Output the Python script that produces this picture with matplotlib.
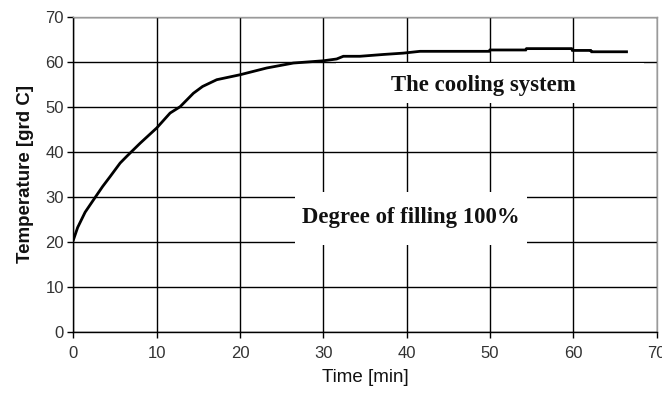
import matplotlib
matplotlib.use("Agg")
import matplotlib.pyplot as plt
from matplotlib.patches import Rectangle

# Temperature of the filled tank over time
time_min = [0, 0.5, 1.4, 2.5, 3.5, 4.4, 5.6, 6.4, 8.0, 10.0, 11.6, 12.8, 14.4,
            15.5, 17.2, 20.0, 23.2, 26.4, 30.0, 31.6, 32.4, 34.4, 37.2, 39.6,
            41.6, 49.9, 50.0, 54.3, 54.4, 59.8, 59.9, 62.1, 62.2, 66.4]
temp_c = [20.5, 23.2, 26.6, 29.6, 32.3, 34.5, 37.5, 39.0, 41.9, 45.3, 48.6,
          50.0, 53.0, 54.5, 56.0, 57.1, 58.6, 59.7, 60.2, 60.6, 61.2, 61.2,
          61.6, 61.9, 62.3, 62.3, 62.6, 62.6, 62.9, 62.9, 62.5, 62.5, 62.2, 62.2]

x_ticks = [0, 10, 20, 30, 40, 50, 60, 70]
y_ticks = [0, 10, 20, 30, 40, 50, 60, 70]

title_upper = "The cooling system"
title_lower = "Degree of filling 100%"

fig = plt.figure(figsize=(6.62, 3.96), dpi=100)
ax = fig.add_axes([0.111, 0.1616, 0.8807, 0.7964])

ax.set_xlim(0, 70)
ax.set_ylim(0, 70)
ax.set_xticks(x_ticks)
ax.set_yticks(y_ticks)

sans = ["Liberation Sans", "DejaVu Sans"]
serif = ["Liberation Serif", "DejaVu Serif"]

ax.grid(True, color="black", linewidth=1.0, zorder=1)
ax.set_axisbelow(True)

for side in ("left", "bottom"):
    ax.spines[side].set_color("black")
    ax.spines[side].set_linewidth(1.0)
for side in ("top", "right"):
    ax.spines[side].set_color("#9a9a9a")
    ax.spines[side].set_linewidth(1.0)

ax.tick_params(axis="both", direction="out", length=4, width=1.0,
               color="black", labelcolor="#333333", labelsize=12, pad=3)
for lbl in ax.get_xticklabels() + ax.get_yticklabels():
    lbl.set_family(sans)
ax.tick_params(axis="x", pad=6)

ax.set_xlabel("Time [min]", fontsize=13.5, family=sans, color="#111111",
              labelpad=6)
ax.set_ylabel("Temperature [grd C]", fontsize=13.5, family=sans,
              fontweight="bold", color="#111111", labelpad=8)

# White panels behind the two captions
ax.add_patch(Rectangle((31.5, 50.9), 37.0, 8.9, facecolor="white",
                       edgecolor="none", zorder=2))
ax.add_patch(Rectangle((26.6, 19.3), 27.9, 11.8, facecolor="white",
                       edgecolor="none", zorder=2))

ax.text(49.2, 53.4, title_upper, ha="center", va="baseline", family=serif,
        fontweight="bold", fontsize=16.4, color="#111111", zorder=3)
ax.text(40.5, 24.2, title_lower, ha="center", va="baseline", family=serif,
        fontweight="bold", fontsize=16.4, color="#111111", zorder=3)

ax.plot(time_min, temp_c, color="black", linewidth=2.0, zorder=4,
        solid_joinstyle="miter")

fig.savefig("out.png", dpi=100)
